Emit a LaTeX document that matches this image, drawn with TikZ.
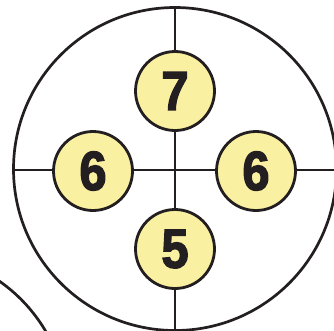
\documentclass[tikz,border=0pt]{standalone}
\usepackage{fontspec}
\usepackage{graphicx}
\newfontfamily\numfont[FakeBold=2.6]{Liberation Sans Bold}
\definecolor{ink}{RGB}{35,31,32}
\definecolor{pale}{RGB}{250,240,162}
\newcommand{\dgt}[1]{\scalebox{0.94}[1.06]{#1}}
\begin{document}
\begin{tikzpicture}[x=1pt,y=-1pt,
  ring/.style={draw=ink,line width=2.7pt},
  cross/.style={draw=ink,line width=2.6pt},
  numc/.style={circle,draw=ink,line width=2.8pt,fill=pale,minimum size=79pt,inner sep=0pt,
    text=ink,font=\numfont\fontsize{52}{52}\selectfont}]
\useasboundingbox (0,0) rectangle (334,330);
\clip (0,0) rectangle (334,330);
\fill[white] (0,0) rectangle (334,330);
\node[circle,ring,minimum size=323pt,inner sep=0pt] (big) at (175,169) {};
\node[circle,ring,minimum size=322pt,inner sep=0pt] (other) at (-93,413) {};
\coordinate (rend) at (336,170);
\draw[cross] (big.north) -- (big.south);
\draw[cross] (big.west |- rend) -- (rend);
\node[numc] (n7) at (175,91) {\dgt{7}};
\node[numc] (n6l) at (93,171) {\dgt{6}};
\node[numc] (n6r) at (256,171) {\dgt{6}};
\node[numc] (n5) at (175,249) {\dgt{5}};
\end{tikzpicture}
\end{document}
